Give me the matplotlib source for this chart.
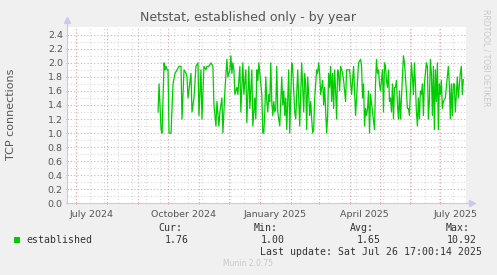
import datetime as dt
import numpy as np
import matplotlib
matplotlib.use("Agg")
import matplotlib.pyplot as plt
import matplotlib.dates as mdates
from matplotlib.patches import Rectangle

# days after 2024-07-01 and established connections
days = [82, 83, 85, 86, 88, 89, 90, 91, 92, 93, 95, 97, 99, 101, 103, 105, 106, 108, 110, 111,
        112, 115, 116, 118, 120, 122, 123, 125, 126, 128, 130, 131, 133, 135, 137, 138, 140, 141, 143, 144,
        146, 147, 149, 151, 152, 154, 155, 156, 157, 158, 159, 161, 162, 163, 164, 165, 167, 168, 170, 171,
        173, 174, 176, 177, 179, 180, 181, 182, 183, 184, 185, 186, 187, 188, 189, 190, 191, 192, 193, 194,
        195, 196, 197, 198, 199, 200, 201, 202, 204, 206, 207, 208, 209, 210, 211, 213, 214, 216, 217, 219,
        220, 222, 224, 226, 228, 229, 230, 231, 232, 233, 234, 235, 236, 237, 238, 239, 241, 242, 243, 244,
        245, 247, 248, 249, 251, 252, 253, 254, 255, 256, 257, 258, 259, 260, 261, 262, 263, 264, 265, 267,
        268, 270, 271, 272, 274, 276, 278, 280, 283, 285, 286, 287, 288, 289, 290, 291, 292, 293, 294, 295,
        297, 299, 300, 301, 302, 303, 304, 305, 307, 308, 309, 310, 311, 312, 313, 314, 315, 316, 317, 318,
        319, 320, 321, 322, 323, 324, 325, 326, 327, 328, 329, 330, 332, 333, 334, 336, 337, 338, 339, 340,
        341, 342, 343, 344, 345, 346, 347, 348, 349, 351, 352, 353, 354, 355, 356, 357, 358, 359, 360, 361,
        362, 363, 364, 365, 366, 367, 368, 370, 371, 373, 374, 375, 376, 377, 378, 379, 380, 382, 383, 385,
        386, 387, 388]
conns = [1.30, 1.70, 1.05, 1.00, 2.00, 1.90, 1.95, 1.90, 1.90, 1.00, 1.00, 1.70, 1.85, 1.90, 1.95, 1.95, 1.20, 1.90, 1.85, 1.80,
         1.50, 1.85, 1.30, 1.50, 1.95, 2.00, 1.25, 1.90, 1.20, 1.95, 1.90, 1.95, 1.95, 2.00, 1.95, 1.40, 1.10, 1.45, 1.10, 1.30,
         1.50, 1.00, 1.60, 2.05, 1.80, 1.90, 2.10, 1.85, 2.00, 1.90, 1.55, 1.65, 1.55, 1.75, 1.95, 1.30, 2.00, 1.55, 1.90, 1.15,
         1.95, 1.35, 1.90, 1.10, 1.50, 1.20, 1.90, 1.75, 2.00, 1.85, 1.70, 1.55, 1.00, 1.00, 1.30, 1.80, 1.45, 1.30, 1.55, 1.45,
         2.00, 1.45, 1.25, 1.45, 1.30, 1.35, 1.95, 1.30, 1.10, 1.80, 1.40, 1.60, 1.25, 1.50, 1.05, 1.90, 1.00, 2.00, 1.90, 1.30,
         1.20, 1.90, 1.10, 2.00, 1.30, 1.85, 1.70, 1.05, 1.80, 1.55, 1.25, 1.45, 1.20, 1.00, 1.05, 1.50, 1.90, 1.85, 2.00, 1.85,
         1.55, 1.75, 1.40, 1.65, 1.00, 1.25, 1.85, 1.65, 1.95, 1.45, 1.85, 1.35, 1.90, 1.60, 1.20, 1.90, 1.85, 1.60, 1.95, 1.85,
         1.75, 1.45, 1.90, 1.90, 1.90, 1.55, 1.95, 1.25, 2.00, 2.05, 1.95, 1.50, 1.70, 1.10, 1.35, 1.25, 1.35, 1.60, 1.00, 1.55,
         1.30, 1.05, 1.70, 2.05, 1.85, 1.90, 1.70, 1.60, 1.90, 1.30, 2.00, 1.95, 1.75, 1.65, 1.90, 1.45, 1.50, 1.30, 1.70, 1.20,
         1.65, 1.65, 1.75, 1.40, 1.20, 1.60, 1.20, 1.50, 1.80, 2.10, 2.00, 1.80, 1.35, 1.35, 1.25, 2.00, 1.80, 1.55, 2.00, 1.70,
         1.30, 1.10, 1.50, 1.20, 1.60, 1.55, 1.70, 1.25, 1.70, 2.00, 1.95, 1.20, 1.45, 2.05, 1.85, 1.25, 1.95, 1.05, 1.90, 1.45,
         2.00, 1.05, 1.70, 1.55, 1.75, 1.35, 1.45, 1.50, 1.65, 1.95, 1.70, 1.20, 1.70, 1.25, 1.70, 1.70, 1.30, 1.80, 1.50, 1.85,
         1.95, 1.55, 1.76]

tick_months = ["2024-07-01", "2024-10-01", "2025-01-01", "2025-04-01", "2025-07-01"]
tick_labels = ["July 2024", "October 2024", "January 2025", "April 2025", "July 2025"]
legend_stats = {"Cur:": "1.76", "Min:": "1.00", "Avg:": "1.65", "Max:": "10.92"}

W, H = 497, 275
BG = "#F0F0F0"
TXT = "#555555"
GREEN = "#00CC00"


def fx(px):
    return px / W


def fy(py):
    return 1 - py / H


origin = dt.datetime(2024, 7, 1)
end = dt.datetime(2025, 7, 26, 17, 0, 14)
start = end - dt.timedelta(days=400)
xs = [origin + dt.timedelta(days=d) for d in days]

fig = plt.figure(figsize=(W / 100, H / 100), dpi=100, facecolor=BG)
ax = fig.add_axes([fx(67), fy(203.3), (466 - 67) / W, (203.3 - 27) / H])
ax.set_facecolor("white")

ax.set_xlim(start, end)
ax.set_ylim(0, 2.51)

# grid: gray minor every 0.1 / two weeks, red major every 0.2 / month
for v in np.arange(0.1, 2.5, 0.2):
    ax.axhline(v, color="#D8D8D8", lw=0.8, ls=(0, (1, 2)), zorder=1)
for v in np.arange(0.2, 2.5, 0.2):
    ax.axhline(v, color="#E2AAAA", lw=0.8, ls=(0, (1, 2)), zorder=1)
d = dt.datetime(2024, 6, 17)
while d < end:
    if d > start:
        ax.axvline(d, color="#D8D8D8", lw=0.8, ls=(0, (1, 2)), zorder=1)
    d += dt.timedelta(days=14)
m = dt.datetime(2024, 7, 1)
months = []
while m < end:
    months.append(m)
    ax.axvline(m, color="#E2AAAA", lw=0.8, ls=(0, (1, 2)), zorder=1)
    m = dt.datetime(m.year + (m.month // 12), m.month % 12 + 1, 1)

ax.plot(xs, conns, color=GREEN, lw=0.9, zorder=3)

# ticks
ax.set_yticks(np.arange(0, 2.41, 0.2))
ax.set_yticklabels(["%.1f" % v for v in np.arange(0, 2.41, 0.2)])
ax.set_xticks(months, minor=True)
ax.set_xticks([dt.datetime.strptime(t, "%Y-%m-%d") + dt.timedelta(days=15) for t in tick_months])
ax.set_xticklabels(tick_labels)
ax.tick_params(axis="x", which="major", length=0, pad=5, labelsize=6.8, labelcolor=TXT)
ax.tick_params(axis="x", which="minor", length=2, direction="inout", color="#E08080", width=0.6)
ax.tick_params(axis="y", length=2, direction="inout", color="#E08080", width=0.6,
               labelsize=6.8, labelcolor=TXT, pad=2)

for s in ["top", "right"]:
    ax.spines[s].set_visible(False)
for s in ["left", "bottom"]:
    ax.spines[s].set_color("#C8C8F0")
    ax.spines[s].set_linewidth(0.8)

# arrow heads of the rrdtool axes
ax.plot([0], [1.04], marker="^", ms=4, color="#C8C8F0", transform=ax.transAxes, clip_on=False)
ax.plot([1.015], [0], marker=">", ms=4, color="#C8C8F0", transform=ax.transAxes, clip_on=False)
ax.plot([0, 0], [1, 1.04], color="#C8C8F0", lw=0.8, transform=ax.transAxes, clip_on=False)
ax.plot([1, 1.015], [0, 0], color="#C8C8F0", lw=0.8, transform=ax.transAxes, clip_on=False)

fig.text(fx(248), fy(17), "Netstat, established only - by year", ha="center", va="center",
         fontsize=9, color=TXT)
fig.text(fx(11), fy(114), "TCP connections", rotation=90, ha="center", va="center",
         fontsize=8, color=TXT)
fig.text(fx(486), fy(58), "RRDTOOL / TOBI OETIKER", rotation=270, ha="center", va="center",
         fontsize=5.5, color="#C8C8C8")

mono = "DejaVu Sans Mono"
fig.patches.append(Rectangle((fx(14), fy(243)), 6 / W, 6 / H, transform=fig.transFigure,
                             facecolor=GREEN, edgecolor="none"))
fig.text(fx(26), fy(240), "established", ha="left", va="center", family=mono, fontsize=7.1, color="#333333")
for (head, val), right in zip(legend_stats.items(), [182, 278, 374, 470]):
    fig.text(fx(right), fy(228), head, ha="right", va="center", family=mono, fontsize=7.1, color="#333333")
    fig.text(fx(right + 7 if len(val) < 5 else right + 7), fy(240), val, ha="right", va="center",
             family=mono, fontsize=7.1, color="#333333")
fig.text(fx(482), fy(252), "Last update: Sat Jul 26 17:00:14 2025", ha="right", va="center",
         family=mono, fontsize=7.1, color="#333333")
fig.text(fx(248), fy(264), "Munin 2.0.75", ha="center", va="center", fontsize=5.5, color="#C8C8C8")

fig.savefig("out.png", dpi=100, facecolor=BG)
